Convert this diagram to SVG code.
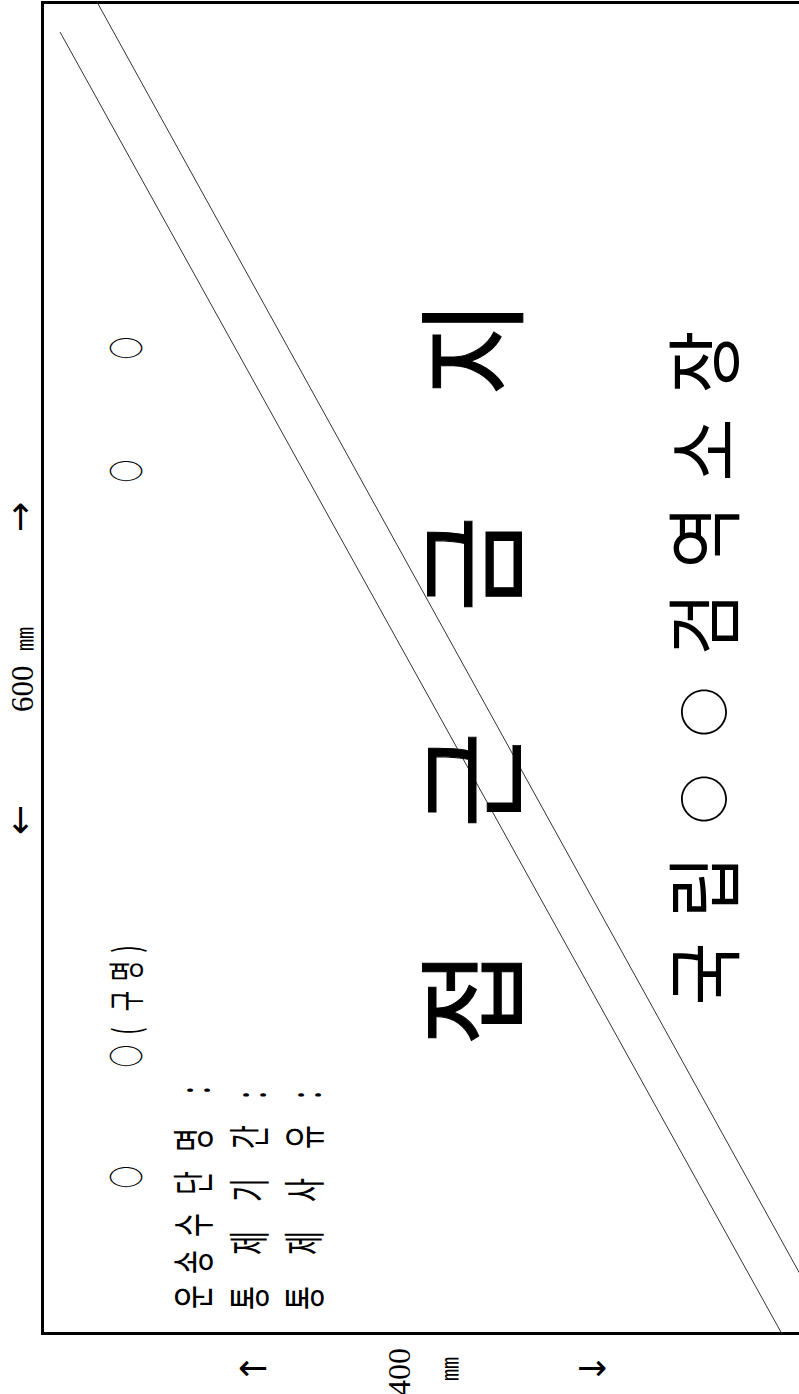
<svg xmlns="http://www.w3.org/2000/svg" width="799" height="1394" viewBox="0 0 799 1394">
<style>
.k{font-family:"Noto Sans CJK KR","Noto Sans",sans-serif;fill:#000}
.n{font-family:"Liberation Serif",serif;fill:#000}
.a{font-family:"DejaVu Sans",sans-serif;fill:#000}
.dl{stroke:#333;stroke-width:1;fill:none}
</style>
<rect width="799" height="1394" fill="#fff"/>
<g id="border">
<path d="M 801 2.5 H 42.5 V 1333.5 H 801" fill="none" stroke="#000" stroke-width="3"/>
</g>
<g id="diagonals">
<line class="dl" x1="97" y1="2" x2="800" y2="1274"/>
<line class="dl" x1="60" y1="32" x2="782" y2="1334"/>
</g>
<g id="sign" transform="translate(0,1394) rotate(-90)">
<g id="row0" transform="scale(0.62,1)">
<text class="k" font-size="36" y="140" x="350" text-anchor="middle">○</text>
<text class="k" font-size="36" y="140" x="545.2 585.5 633.9 682.3 717.7" text-anchor="middle">○(구명)</text>
<text class="k" font-size="36" y="140" x="1488.7" text-anchor="middle">○</text>
<text class="k" font-size="36" y="140" x="1687.1" text-anchor="middle">○</text>
</g>
<g id="row1" transform="scale(0.62,1)">
<text class="k" font-size="42" y="209" x="156.5 212.9 272.6 340.3 409.7 450 490.3" text-anchor="middle">운송수단명 :</text>
</g>
<g id="row2" transform="scale(0.62,1)">
<text class="k" font-size="42" y="265" x="154.8 200 243.5 290 329 370 414.5 450 482.3" text-anchor="middle">통 제 기 간 :</text>
</g>
<g id="row3" transform="scale(0.62,1)">
<text class="k" font-size="42" y="320" x="154.8 200 243.5 290 329 370 414.5 450 482.3" text-anchor="middle">통 제 사 유 :</text>
</g>
<g id="title" transform="scale(0.95,1)">
<text class="k" font-size="110" font-weight="400" stroke="#000" stroke-width="1" y="514" x="416.8 531 646.3 760 873.7 990 1101.1" text-anchor="middle">접 근 금 지</text>
</g>
<g id="issuer">
<text class="k" font-size="76" y="733" transform="scale(0.9,1)" x="466.7 563.3" text-anchor="middle">국립</text>
<text class="k" font-size="50" y="723" x="595 682" text-anchor="middle">○○</text>
<text class="k" font-size="76" y="733" transform="scale(0.9,1)" x="855.6 952.2 1048.9 1146.7" text-anchor="middle">검역소장</text>
</g>
<g id="dim-width">
<text class="a" font-size="36" x="574" y="32" text-anchor="middle">←</text>
<text class="n" font-size="31" x="682" y="33">600</text>
<text class="k" font-size="24" x="755" y="33" text-anchor="middle">㎜</text>
<text class="a" font-size="36" x="877" y="32" text-anchor="middle">→</text>
</g>
<g id="dim-height-text">
<text class="n" font-size="32" x="-2" y="410">400</text>
<text class="k" font-size="24" x="25" y="458" text-anchor="middle">㎜</text>
</g>
</g>
<g id="dim-height-arrows">
<text class="a" font-size="36" x="253" y="1380" text-anchor="middle">←</text>
<text class="a" font-size="36" x="592" y="1380" text-anchor="middle">→</text>
</g>
</svg>
